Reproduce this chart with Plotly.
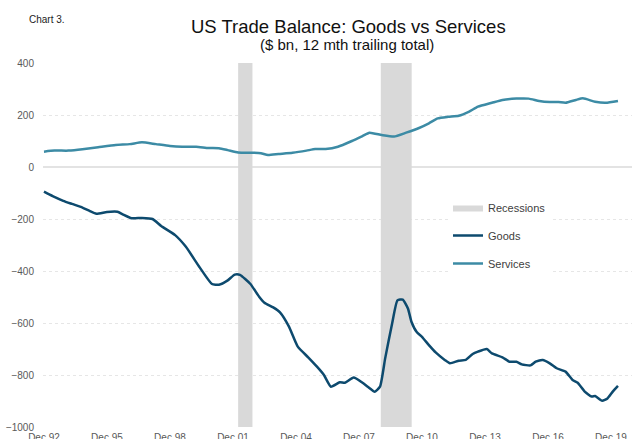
import plotly.graph_objects as go

# ---- data ----
goods_dates = ["1992-12", "1993-05", "1993-11", "1994-04", "1994-10", "1995-02", "1995-06", "1995-12",
               "1996-06", "1996-09", "1997-02", "1997-08", "1998-02", "1998-07", "1999-03", "1999-09",
               "2000-05", "2000-12", "2001-04", "2001-09", "2002-01", "2002-04", "2002-10", "2003-03",
               "2003-06", "2003-11", "2004-03", "2004-08", "2005-01", "2005-07", "2005-12", "2006-04",
               "2006-08", "2007-01", "2007-04", "2007-09", "2008-02", "2008-05", "2008-09", "2008-12",
               "2009-03", "2009-07", "2009-10", "2010-01", "2010-04", "2010-06", "2010-09", "2010-12",
               "2011-04", "2011-08", "2012-01", "2012-04", "2012-09", "2013-01", "2013-05", "2013-08",
               "2014-01", "2014-04", "2014-10", "2015-02", "2015-06", "2015-09", "2016-02", "2016-05",
               "2016-09", "2017-01", "2017-05", "2017-10", "2018-02", "2018-05", "2018-09", "2019-01",
               "2019-03", "2019-07", "2019-10", "2020-01", "2020-04"]
goods_values = [-95, -112, -130, -142, -156, -169, -180, -173,
                -172, -182, -197, -196, -200, -227, -262, -306,
                -386, -450, -453, -436, -414, -415, -450, -499,
                -522, -540, -560, -614, -691, -732, -768, -800,
                -845, -828, -830, -810, -830, -845, -864, -845,
                -736, -601, -513, -510, -544, -595, -635, -653,
                -685, -714, -742, -755, -745, -742, -719, -710,
                -700, -717, -732, -749, -749, -759, -763, -749,
                -742, -755, -774, -787, -819, -830, -864, -883,
                -881, -899, -890, -864, -842]

services_dates = ["1992-12", "1993-06", "1994-02", "1994-10", "1995-07", "1996-05", "1997-01", "1997-08",
                  "1998-04", "1998-12", "1999-07", "2000-03", "2000-10", "2001-04", "2001-09", "2002-03",
                  "2002-11", "2003-04", "2003-08", "2004-02", "2004-10", "2005-06", "2005-11", "2006-05",
                  "2006-12", "2007-08", "2008-02", "2008-06", "2009-01", "2009-08", "2010-03", "2010-10",
                  "2011-04", "2011-09", "2012-03", "2012-09", "2013-03", "2013-08", "2014-04", "2014-10",
                  "2015-06", "2016-01", "2016-07", "2017-01", "2017-06", "2017-10", "2018-04", "2018-08",
                  "2019-03", "2019-09", "2020-04"]
services_values = [59, 63, 63, 68, 76, 85, 88, 95,
                   88, 81, 78, 78, 73, 72, 65, 56,
                   55, 53, 46, 50, 55, 63, 69, 69,
                   78, 100, 119, 132, 123, 117, 132, 149,
                   168, 187, 193, 197, 213, 232, 247, 258,
                   263, 263, 254, 250, 250, 247, 258, 264,
                   251, 247, 254]

recession_start = ["2002-03-01", "2008-12-15"]
recession_end = ["2002-11-05", "2010-06-05"]

tick_years = list(range(1992, 2020, 3))
tick_vals = [f"{y}-12-01" for y in tick_years]
tick_text = [f"Dec {str(y)[2:]}" for y in tick_years]

y_min, y_max = -1000, 400

# recession shading as a filled scatter
rx, ry = [], []
for s, e in zip(recession_start, recession_end):
    rx += [s, s, e, e, s, None]
    ry += [y_min, y_max, y_max, y_min, y_min, None]

fig = go.Figure()
fig.add_trace(go.Scatter(x=rx, y=ry, mode="lines", fill="toself", fillcolor="#d9d9d9",
                         line=dict(width=0, color="#d9d9d9"), name="Recessions",
                         legendgroup="r", hoverinfo="skip"))
fig.add_trace(go.Scatter(x=goods_dates, y=goods_values, mode="lines", name="Goods",
                         line=dict(color="#0d4a6e", width=2.5, shape="spline", smoothing=0.5),
                         legendgroup="g"))
fig.add_trace(go.Scatter(x=services_dates, y=services_values, mode="lines", name="Services",
                         line=dict(color="#3c8ba5", width=2.5, shape="spline", smoothing=0.5),
                         legendgroup="s"))

W, H = 632, 439
L, R, T, B = 43, 0, 63, 12
pw = W - L - R
ph = H - T - B

def px_x(x):
    return (x - L) / pw

def px_y(y):
    return 1 - (y - T) / ph

fig.update_layout(
    width=W, height=H,
    margin=dict(l=L, r=R, t=T, b=B, pad=0),
    paper_bgcolor="white", plot_bgcolor="white",
    font=dict(family="Liberation Sans, Arial, sans-serif", size=10, color="#595959"),
    showlegend=True,
    legend=dict(x=px_x(448), y=px_y(193), xanchor="left", yanchor="top",
                bgcolor="white", borderwidth=0, tracegroupgap=9,
                font=dict(size=11, color="#404040")),
    xaxis=dict(type="date", range=["1992-11-14", "2020-12-01"], tickvals=tick_vals, ticktext=tick_text,
               showgrid=False, zeroline=False, showline=False, ticks="", automargin=False,
               tickfont=dict(size=10, color="#595959"), ticklabelstandoff=3),
    yaxis=dict(range=[y_min, y_max], dtick=200, tick0=0, showgrid=True, gridcolor="#e6e6e6",
               griddash="dot", gridwidth=1, zeroline=True, zerolinecolor="#e3e3e3", zerolinewidth=2,
               showline=False, ticks="", automargin=False, tickfont=dict(size=10, color="#595959"),
               ticklabelstandoff=8),
    annotations=[
        dict(text="Chart 3.", x=27, y=H - 19.5, showarrow=False,
             xanchor="left", yanchor="middle", font=dict(size=10, color="#222222")),
        dict(text="US Trade Balance: Goods vs Services", x=348, y=H - 26.5, showarrow=False,
             xanchor="center", yanchor="middle", font=dict(size=18.5, color="#111111")),
        dict(text="($ bn, 12 mth trailing total)", x=347, y=H - 45, showarrow=False,
             xanchor="center", yanchor="middle", font=dict(size=15, color="#111111")),
    ],
)
# convert annotation positions from pixels to paper fractions
for a in fig.layout.annotations:
    a.xref = "paper"
    a.yref = "paper"
    a.x = (a.x - L) / pw
    a.y = (a.y - B) / ph

fig.write_html("out.html")
